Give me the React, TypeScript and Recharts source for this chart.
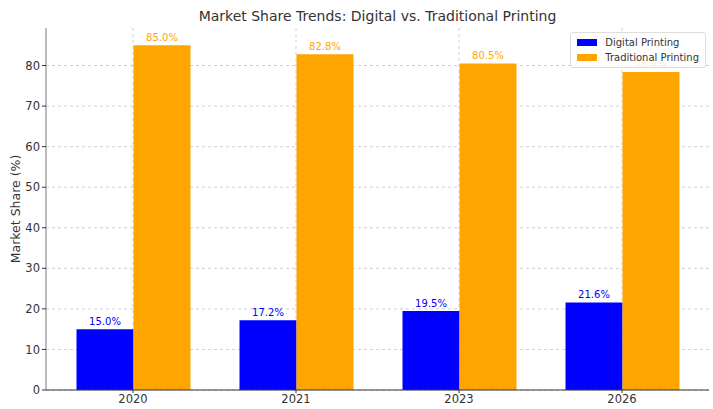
import React from "react";
import {
  BarChart,
  Bar,
  XAxis,
  YAxis,
  CartesianGrid,
  LabelList,
} from "recharts";

const years = ["2020", "2021", "2023", "2026"];
const digital = [15.0, 17.2, 19.5, 21.6];
const traditional = [85.0, 82.8, 80.5, 78.4];
const yTicks = [0, 10, 20, 30, 40, 50, 60, 70, 80];

const data = years.map((year, i) => ({
  year,
  digital: digital[i],
  traditional: traditional[i],
}));

const font = "DejaVu Sans, sans-serif";
const pct = (v: any) => `${Number(v).toFixed(1)}%`;

function LegendBox() {
  const items = [
    { name: "Digital Printing", color: "blue" },
    { name: "Traditional Printing", color: "orange" },
  ];
  return (
    <div
      style={{
        position: "absolute",
        top: 32,
        right: 7,
        background: "rgba(255,255,255,0.8)",
        border: "1px solid #ddd",
        borderRadius: 3,
        padding: "2px 6px 2px 6px",
        fontFamily: font,
        fontSize: 10,
        color: "#333",
        lineHeight: "15px",
      }}
    >
      {items.map((it) => (
        <div key={it.name} style={{ display: "flex", alignItems: "center" }}>
          <span
            style={{
              display: "inline-block",
              width: 20,
              height: 7,
              background: it.color,
              marginRight: 8,
            }}
          />
          {it.name}
        </div>
      ))}
    </div>
  );
}

export default function App() {
  return (
    <div style={{ position: "relative", width: 713, height: 409, background: "#fff" }}>
      <style>{"body{margin:0}"}</style>
      <div
        style={{
          position: "absolute",
          top: 8,
          left: 46,
          width: 663,
          textAlign: "center",
          fontFamily: font,
          fontSize: 14,
          color: "#333",
        }}
      >
        Market Share Trends: Digital vs. Traditional Printing
      </div>
      <BarChart
        width={713}
        height={409}
        data={data}
        margin={{ top: 28, right: 4, left: 0, bottom: 0 }}
        barGap={0}
        barSize={57}
      >
        <CartesianGrid stroke="#d0d0d0" strokeDasharray="3 3" syncWithTicks />
        <XAxis
          dataKey="year"
          height={19}
          padding={{ left: 5.5, right: 5.5 }}
          axisLine={{ stroke: "#333" }}
          tickLine={{ stroke: "#333" }}
          tickSize={3}
          tick={{ fontFamily: font, fontSize: 11.5, fill: "#333" }}
        />
        <YAxis
          width={46}
          domain={[0, 89.25]}
          ticks={yTicks}
          axisLine={{ stroke: "#777" }}
          tickLine={{ stroke: "#333" }}
          tickSize={4}
          tick={{ fontFamily: font, fontSize: 11.5, fill: "#333" }}
          label={{
            value: "Market Share (%)",
            angle: -90,
            position: "insideLeft",
            dx: 11,
            style: { fontFamily: font, fontSize: 12.5, fill: "#333", textAnchor: "middle" },
          }}
        />
        <Bar dataKey="digital" name="Digital Printing" fill="blue" isAnimationActive={false}>
          <LabelList
            dataKey="digital"
            position="top"
            offset={4}
            formatter={pct}
            style={{ fontFamily: font, fontSize: 10, fill: "blue" }}
          />
        </Bar>
        <Bar
          dataKey="traditional"
          name="Traditional Printing"
          fill="orange"
          isAnimationActive={false}
        >
          <LabelList
            dataKey="traditional"
            position="top"
            offset={4}
            formatter={pct}
            style={{ fontFamily: font, fontSize: 10, fill: "orange" }}
          />
        </Bar>
      </BarChart>
      <LegendBox />
    </div>
  );
}
